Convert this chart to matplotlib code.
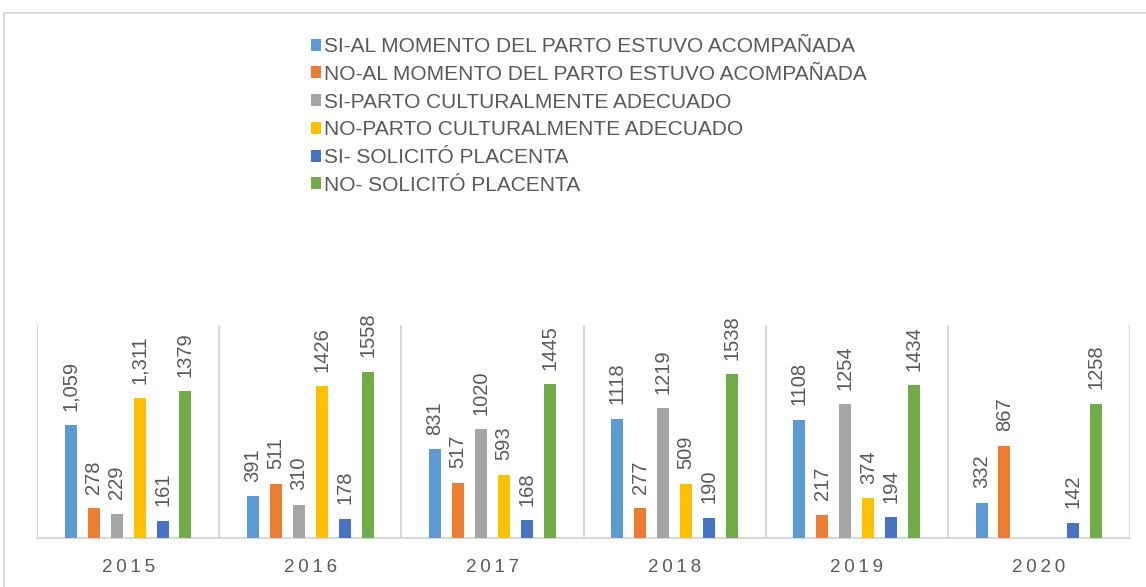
import numpy as np
import matplotlib.pyplot as plt
from matplotlib.patches import Patch, Rectangle

years = ['2015', '2016', '2017', '2018', '2019', '2020']

series_names = [
    'SI-AL MOMENTO DEL PARTO ESTUVO ACOMPAÑADA',
    'NO-AL MOMENTO DEL PARTO ESTUVO ACOMPAÑADA',
    'SI-PARTO CULTURALMENTE ADECUADO',
    'NO-PARTO CULTURALMENTE ADECUADO',
    'SI- SOLICITÓ PLACENTA',
    'NO- SOLICITÓ PLACENTA',
]

si_acompanada = [1059, 391, 831, 1118, 1108, 332]
no_acompanada = [278, 511, 517, 277, 217, 867]
si_cultural = [229, 310, 1020, 1219, 1254, np.nan]
no_cultural = [1311, 1426, 593, 509, 374, np.nan]
si_placenta = [161, 178, 168, 190, 194, 142]
no_placenta = [1379, 1558, 1445, 1538, 1434, 1258]

# (series index, year) of labels shown with a thousands separator
comma_labels = [(0, '2015'), (3, '2015')]

colors = ['#5B9BD5', '#ED7D31', '#A5A5A5', '#FFC000', '#4472C4', '#70AD47']
text_color = '#595959'
line_color = '#D9D9D9'

data = [si_acompanada, no_acompanada, si_cultural,
        no_cultural, si_placenta, no_placenta]

fig = plt.figure(figsize=(11.46, 5.87), dpi=100)
ax = fig.add_axes([37 / 1146, 49 / 587, (1130 - 37) / 1146, (538 - 325) / 587])

# outer chart border
fig.patches.append(Rectangle((4 / 1146, -0.05), 1.1, 1 - 13 / 587 + 0.05,
                             transform=fig.transFigure, fill=False,
                             edgecolor=line_color, linewidth=1.4))

x = np.arange(len(years))
pitch = 0.126
width = 0.066
for i, (vals, color) in enumerate(zip(data, colors)):
    offs = (i - 2.5) * pitch
    bars = ax.bar(x + offs, vals, width, color=color, zorder=3)
    labels = []
    for year, v in zip(years, vals):
        if np.isnan(v):
            labels.append('')
        elif (i, year) in comma_labels:
            labels.append('{:,}'.format(int(v)))
        else:
            labels.append('%d' % v)
    ax.bar_label(bars, labels=labels, rotation=90, padding=10.5,
                 color=text_color, fontsize=14.5, family='Liberation Sans')

ax.set_xlim(-0.5, len(years) - 0.5)
ax.set_ylim(0, 2000)
ax.set_yticks([])
ax.set_xticks(x)
ax.set_xticklabels(['\u2009'.join(y) for y in years], color=text_color,
                   fontsize=13.5, family=['Liberation Sans', 'DejaVu Sans'])
ax.tick_params(axis='x', length=0, pad=15)
ax.set_xticks(np.arange(-0.5, len(years)), minor=True)
ax.tick_params(axis='x', which='minor', length=0)
ax.grid(which='minor', axis='x', color=line_color, linewidth=1.5, zorder=0)
for side in ['top', 'left', 'right']:
    ax.spines[side].set_visible(False)
ax.spines['bottom'].set_color(line_color)
ax.spines['bottom'].set_linewidth(1.5)

handles = [Patch(facecolor=c) for c in colors]
leg = fig.legend(handles, series_names, loc='upper left',
                 bbox_to_anchor=(311 / 1146, 1 - 37 / 587),
                 frameon=False, borderpad=0, borderaxespad=0,
                 handlelength=0.5, handleheight=0.5, handletextpad=0.12,
                 labelspacing=0.42,
                 prop={'family': 'Liberation Sans', 'size': 15})
for t in leg.get_texts():
    t.set_color(text_color)

plt.savefig('out.png', dpi=100)
